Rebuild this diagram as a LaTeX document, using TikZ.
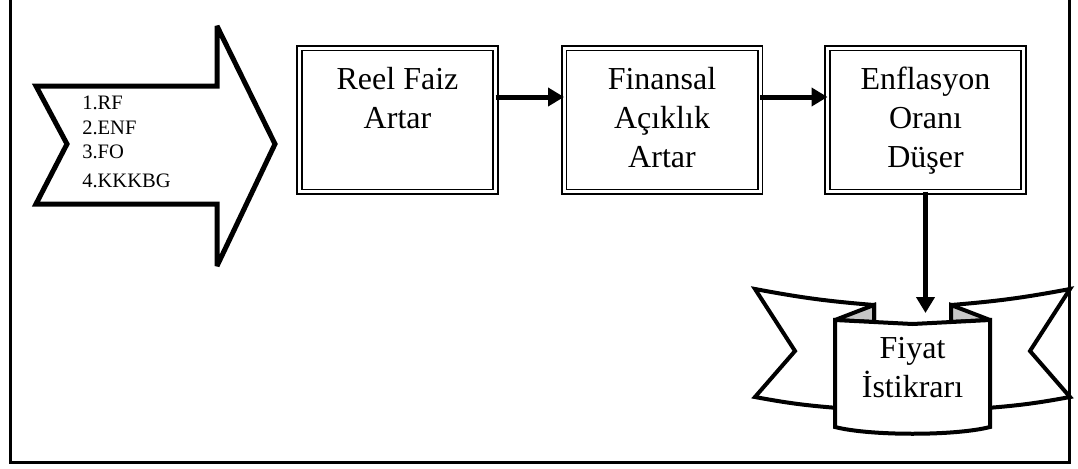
\documentclass[tikz,border=0pt]{standalone}
\usepackage{fontspec}
\setmainfont{Liberation Serif}
\usetikzlibrary{arrows.meta,calc}
\begin{document}
\begin{tikzpicture}[x=0.75pt,y=-0.75pt,
  frame/.style={line width=2.6pt},
  bigarrow/.style={line width=3.75pt, line join=miter, miter limit=3},
  box/.style={draw, double, line width=1.2pt, double distance=2.25pt,
    minimum width=147pt, minimum height=107.6pt, inner sep=0pt, outer sep=0pt},
  boxtext/.style={font=\fontsize{24}{29.25}\selectfont, align=center, inner sep=0pt, anchor=north},
  listtext/.style={font=\fontsize{15.4}{18.4}\selectfont, align=left, inner sep=0pt, anchor=north west},
  arr/.style={line width=3.75pt, -{Triangle[length=12pt,width=13.5pt]}},
  ban/.style={line width=3pt, line join=miter, miter limit=4},
  fold/.style={ban, fill=black!22}
]
\useasboundingbox (0,0) rectangle (1078,468);
% outer frame (open at top)
\draw[frame] (10.5,0) -- (10.5,462.5) -- (1069.5,462.5) -- (1069.5,0);

% big notched arrow
\draw[bigarrow] (36,86) -- (217,86) -- (217,26) -- (275,144) -- (217,266) -- (217,204)
  -- (36,204) -- (67,144) -- cycle;
\node[listtext] (list) at (82,96) {1.RF\\2.ENF\\3.FO\\[3pt]4.KKKBG};

% boxes
\node[box] (b1) at (397.5,120) {};
\node[box] (b2) at (662,120) {};
\node[box] (b3) at (925.5,120) {};
\node[boxtext] (t1) at (397.5,67) {Reel Faiz\\Artar};
\node[boxtext] (t2) at (662,67) {Finansal\\Açıklık\\Artar};
\node[boxtext] (t3) at (925.5,67) {Enflasyon\\Oranı\\Düşer};

\draw[arr] ([yshift=17.25pt]b1.east) -- ([yshift=17.25pt]b2.west);
\draw[arr] ([yshift=17.25pt]b2.east) -- ([yshift=17.25pt]b3.west);

% ribbon
\draw[ban, fill=white] (755,289) to[bend right=3] (874,305) -- (874,410) -- (838,408)
  to[bend left=3] (755,397) -- (795,351) -- cycle;
\draw[ban, fill=white] (1070,289) to[bend left=3] (951,305) -- (951,410) -- (987,408)
  to[bend right=3] (1070,397) -- (1030,351) -- cycle;
\draw[fold] (874,305) -- (835,320) -- (874,322) -- cycle;
\draw[fold] (951,305) -- (990,320) -- (951,322) -- cycle;
\draw[ban, fill=white] (835,320) -- (912.5,324) -- (990,320) -- (990,427)
  .. controls (955,436) and (870,436) .. (835,427) -- cycle;
\node[boxtext] (fiyat) at (912.5,337) {Fiyat\\İstikrarı};

\coordinate (rtop) at (925.5,313);
\draw[arr] (b3.south) -- (rtop);
\end{tikzpicture}
\end{document}
